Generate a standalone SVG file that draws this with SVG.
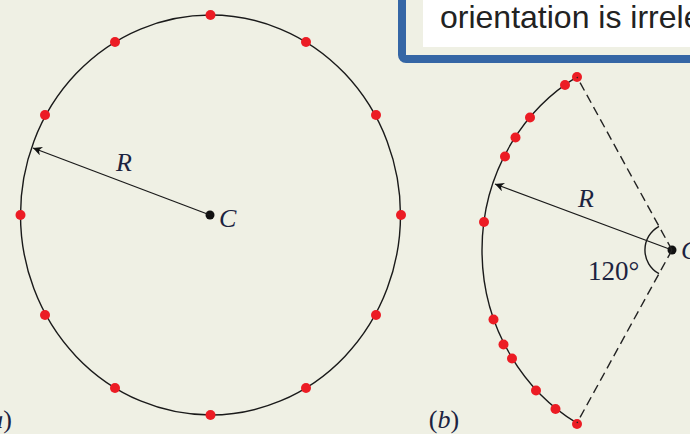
<svg xmlns="http://www.w3.org/2000/svg" width="690" height="434" viewBox="0 0 690 434">
<defs>
<marker id="ah" viewBox="0 0 10 10" refX="10" refY="5" markerWidth="9" markerHeight="9" markerUnits="userSpaceOnUse" orient="auto">
<path d="M0,0 L10,5 L0,10 L3,5 z" fill="#111"/>
</marker>
<style>
.curve{fill:none;stroke:#1a1a1a;stroke-width:1.4}
.dash{fill:none;stroke:#222;stroke-width:1.4;stroke-dasharray:9 5}
.dot{fill:#ec1c24}
.ctr{fill:#111}
.lbl{font-family:"Liberation Serif",serif;font-size:26px;fill:#1c2340}
.it{font-style:italic}
.box{font-family:"Liberation Sans",Arial,sans-serif;font-size:32px;fill:#222}
</style>
</defs>
<rect width="690" height="434" fill="#eff0e4"/>

<g id="note">
<rect x="402" y="-20" width="310" height="79" rx="4" fill="none" stroke="#3566a5" stroke-width="8"/>
<rect x="423" y="-10" width="280" height="57" fill="#ffffff"/>
<text class="box" x="440" y="28">orientation is irrele</text>
</g>

<g id="circle-a">
<ellipse class="curve" cx="210.5" cy="215" rx="190" ry="200"/>
<g class="dot">
<circle cx="210.5" cy="15" r="5"/>
<circle cx="306" cy="42" r="5"/>
<circle cx="376" cy="115" r="5"/>
<circle cx="401" cy="215" r="5"/>
<circle cx="376" cy="315" r="5"/>
<circle cx="306" cy="388" r="5"/>
<circle cx="210.5" cy="415" r="5"/>
<circle cx="115" cy="388" r="5"/>
<circle cx="45" cy="315" r="5"/>
<circle cx="20.5" cy="215" r="5"/>
<circle cx="45" cy="115" r="5"/>
<circle cx="115" cy="42" r="5"/>
</g>
<circle class="ctr" cx="210" cy="215" r="4.5"/>
<text class="lbl it" x="124" y="171" text-anchor="middle">R</text>
<text class="lbl it" x="219" y="227">C</text>
<text class="lbl" x="12" y="428" text-anchor="end">(<tspan class="it">a</tspan>)</text>
</g>

<g id="sector-b">
<path class="curve" d="M577,76.8 A190,200 0 0,0 577,423.2"/>
<path class="curve" d="M659,226.3 A27,27 0 0,0 659,273.7"/>
<g class="dot">
<circle cx="577" cy="77" r="5"/>
<circle cx="565" cy="85" r="5"/>
<circle cx="530" cy="117.5" r="5"/>
<circle cx="515.5" cy="137.5" r="5"/>
<circle cx="505" cy="156.5" r="5"/>
<circle cx="484" cy="222" r="5"/>
<circle cx="493.5" cy="319.5" r="5"/>
<circle cx="503.5" cy="344.5" r="5"/>
<circle cx="512" cy="358.5" r="5"/>
<circle cx="536" cy="390.5" r="5"/>
<circle cx="555.5" cy="409" r="5"/>
<circle cx="577" cy="424" r="5"/>
</g>
<circle class="ctr" cx="672" cy="250" r="4.5"/>
<text class="lbl it" x="586" y="207" text-anchor="middle">R</text>
<text class="lbl it" x="681" y="259">C</text>
<text class="lbl" x="588" y="280" style="font-size:27px">120°</text>
<text class="lbl" x="444" y="428" text-anchor="middle">(<tspan class="it">b</tspan>)</text>
</g>

<g id="connectors">
<line x1="210" y1="215" x2="33" y2="148" stroke="#1a1a1a" stroke-width="1.3" marker-end="url(#ah)"/>
<line x1="672" y1="250" x2="495" y2="184" stroke="#1a1a1a" stroke-width="1.3" marker-end="url(#ah)"/>
<line class="dash" x1="672" y1="250" x2="577" y2="77"/>
<line class="dash" x1="672" y1="250" x2="577" y2="423"/>
</g>
</svg>
